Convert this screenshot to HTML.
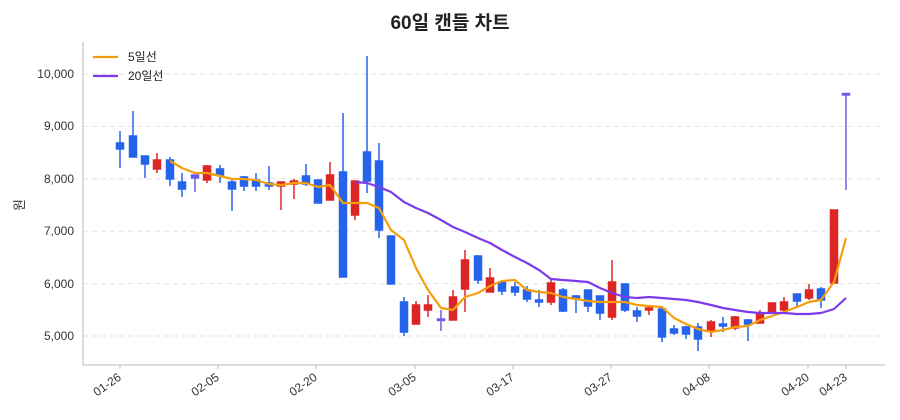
<!DOCTYPE html>
<html><head><meta charset="utf-8"><style>
html,body{margin:0;padding:0;background:#fff;}
svg{display:block;font-family:"Liberation Sans","Noto Sans CJK KR",sans-serif;}
</style></head><body>
<svg width="900" height="420" viewBox="0 0 900 420" xmlns="http://www.w3.org/2000/svg">
<text x="450" y="29" text-anchor="middle" font-size="19" font-weight="bold" fill="#222" font-family="Liberation Sans, Noto Sans CJK KR, sans-serif">60일 캔들 차트</text>
<g stroke="#e3e3e3" stroke-dasharray="5,4" stroke-width="1">
<line x1="83" x2="885" y1="336" y2="336"/><line x1="83" x2="885" y1="283.6" y2="283.6"/><line x1="83" x2="885" y1="231.2" y2="231.2"/><line x1="83" x2="885" y1="178.8" y2="178.8"/><line x1="83" x2="885" y1="126.4" y2="126.4"/><line x1="83" x2="885" y1="74" y2="74"/>
</g>
<g stroke="#bbb" stroke-width="1"><line x1="83" y1="42" x2="83" y2="365"/><line x1="83" y1="365" x2="885" y2="365"/></g>
<g font-size="12" fill="#333" text-anchor="end">
<text x="74" y="340">5,000</text><text x="74" y="288">6,000</text><text x="74" y="235">7,000</text><text x="74" y="183">8,000</text><text x="74" y="130">9,000</text><text x="74" y="78">10,000</text>
</g>
<text transform="translate(24,205) rotate(-90)" font-size="13" fill="#333" text-anchor="middle">원</text>
<g stroke="#bbb"><line x1="120" x2="120" y1="365" y2="369"/><line x1="218" x2="218" y1="365" y2="369"/><line x1="316" x2="316" y1="365" y2="369"/><line x1="415" x2="415" y1="365" y2="369"/><line x1="513" x2="513" y1="365" y2="369"/><line x1="611" x2="611" y1="365" y2="369"/><line x1="709" x2="709" y1="365" y2="369"/><line x1="808" x2="808" y1="365" y2="369"/><line x1="846" x2="846" y1="365" y2="369"/></g>
<g font-size="12" fill="#333" text-anchor="end">
<text transform="translate(122,379) rotate(-35)">01-26</text>
<text transform="translate(220,379) rotate(-35)">02-05</text>
<text transform="translate(318,379) rotate(-35)">02-20</text>
<text transform="translate(417,379) rotate(-35)">03-05</text>
<text transform="translate(515,379) rotate(-35)">03-17</text>
<text transform="translate(613,379) rotate(-35)">03-27</text>
<text transform="translate(711,379) rotate(-35)">04-08</text>
<text transform="translate(810,379) rotate(-35)">04-20</text>
<text transform="translate(848,379) rotate(-35)">04-23</text>
</g>
<g stroke-width="1.5">
<g stroke="#2563eb" fill="#2563eb">
<line x1="120" x2="120" y1="131" y2="168"/><rect x="116.5" y="143" width="7" height="6"/>
<line x1="133" x2="133" y1="111" y2="157"/><rect x="129.5" y="136" width="7" height="21"/>
<line x1="145" x2="145" y1="156" y2="178"/><rect x="141.5" y="156" width="7" height="8"/>
<line x1="170" x2="170" y1="157" y2="186"/><rect x="166.5" y="160" width="7" height="19"/>
<line x1="182" x2="182" y1="173" y2="197"/><rect x="178.5" y="182" width="7" height="7"/>
<line x1="220" x2="220" y1="165" y2="183"/><rect x="216.5" y="169" width="7" height="6"/>
<line x1="232" x2="232" y1="178" y2="211"/><rect x="228.5" y="182" width="7" height="7"/>
<line x1="244" x2="244" y1="176" y2="191"/><rect x="240.5" y="177" width="7" height="9"/>
<line x1="256" x2="256" y1="173" y2="191"/><rect x="252.5" y="180" width="7" height="6"/>
<line x1="269" x2="269" y1="166" y2="190"/><rect x="265.5" y="183" width="7" height="3"/>
<line x1="306" x2="306" y1="164" y2="186"/><rect x="302.5" y="176" width="7" height="8"/>
<rect x="314.5" y="180" width="7" height="23"/>
<line x1="343" x2="343" y1="113" y2="277"/><rect x="339.5" y="172" width="7" height="105"/>
<line x1="367" x2="367" y1="56" y2="193"/><rect x="363.5" y="152" width="7" height="29"/>
<line x1="379" x2="379" y1="143" y2="238"/><rect x="375.5" y="161" width="7" height="69"/>
<rect x="387.5" y="236" width="7" height="48"/>
<line x1="404" x2="404" y1="297" y2="336"/><rect x="400.5" y="302" width="7" height="30"/>
<line x1="478" x2="478" y1="255" y2="284"/><rect x="474.5" y="256" width="7" height="24"/>
<line x1="502" x2="502" y1="280" y2="295"/><rect x="498.5" y="282" width="7" height="9"/>
<line x1="515" x2="515" y1="282" y2="296"/><rect x="511.5" y="287" width="7" height="5"/>
<line x1="527" x2="527" y1="286" y2="302"/><rect x="523.5" y="290" width="7" height="9"/>
<line x1="539" x2="539" y1="290" y2="307"/><rect x="535.5" y="300" width="7" height="2"/>
<line x1="563" x2="563" y1="288" y2="312"/><rect x="559.5" y="290" width="7" height="21"/>
<line x1="576" x2="576" y1="295" y2="313"/><rect x="572.5" y="296" width="7" height="2"/>
<line x1="588" x2="588" y1="290" y2="312"/><rect x="584.5" y="290" width="7" height="16"/>
<line x1="600" x2="600" y1="296" y2="320"/><rect x="596.5" y="296" width="7" height="17"/>
<line x1="625" x2="625" y1="284" y2="312"/><rect x="621.5" y="284" width="7" height="26"/>
<line x1="637" x2="637" y1="307" y2="322"/><rect x="633.5" y="311" width="7" height="5"/>
<line x1="662" x2="662" y1="308" y2="342"/><rect x="658.5" y="309" width="7" height="28"/>
<line x1="674" x2="674" y1="325" y2="335"/><rect x="670.5" y="329" width="7" height="4"/>
<line x1="686" x2="686" y1="326" y2="339"/><rect x="682.5" y="327" width="7" height="7"/>
<line x1="698" x2="698" y1="323" y2="351"/><rect x="694.5" y="327" width="7" height="12"/>
<line x1="723" x2="723" y1="317" y2="332"/><rect x="719.5" y="324" width="7" height="2"/>
<line x1="748" x2="748" y1="319" y2="341"/><rect x="744.5" y="320" width="7" height="4"/>
<line x1="797" x2="797" y1="294" y2="306"/><rect x="793.5" y="294" width="7" height="7"/>
<line x1="821" x2="821" y1="287" y2="308"/><rect x="817.5" y="289" width="7" height="11"/>
</g>
<g stroke="#6d5ce8" fill="#6d5ce8">
<line x1="195" x2="195" y1="175" y2="192"/><rect x="191.5" y="175" width="7" height="3"/>
<line x1="441" x2="441" y1="310" y2="331"/><rect x="437.5" y="319" width="7" height="1.5"/>
<line x1="846" x2="846" y1="94" y2="190"/><rect x="842.5" y="93.5" width="7" height="1.5"/>
</g>
<g stroke="#dc2626" fill="#dc2626">
<line x1="157" x2="157" y1="153" y2="173"/><rect x="153.5" y="160" width="7" height="9"/>
<line x1="207" x2="207" y1="165" y2="183"/><rect x="203.5" y="166" width="7" height="14"/>
<line x1="281" x2="281" y1="182" y2="210"/><rect x="277.5" y="182" width="7" height="4"/>
<line x1="294" x2="294" y1="179" y2="199"/><rect x="290.5" y="181" width="7" height="3"/>
<line x1="330" x2="330" y1="162" y2="200"/><rect x="326.5" y="175" width="7" height="25"/>
<line x1="355" x2="355" y1="181" y2="220"/><rect x="351.5" y="181" width="7" height="34"/>
<line x1="416" x2="416" y1="301" y2="324"/><rect x="412.5" y="305" width="7" height="19"/>
<line x1="428" x2="428" y1="295" y2="317"/><rect x="424.5" y="305" width="7" height="5"/>
<line x1="453" x2="453" y1="290" y2="320"/><rect x="449.5" y="297" width="7" height="23"/>
<line x1="465" x2="465" y1="250" y2="312"/><rect x="461.5" y="260" width="7" height="29"/>
<line x1="490" x2="490" y1="268" y2="292"/><rect x="486.5" y="278" width="7" height="14"/>
<line x1="551" x2="551" y1="279" y2="305"/><rect x="547.5" y="283" width="7" height="19"/>
<line x1="612" x2="612" y1="260" y2="320"/><rect x="608.5" y="282" width="7" height="35"/>
<line x1="649" x2="649" y1="307" y2="315"/><rect x="645.5" y="308" width="7" height="2"/>
<line x1="711" x2="711" y1="320" y2="337"/><rect x="707.5" y="322" width="7" height="9"/>
<line x1="735" x2="735" y1="316" y2="330"/><rect x="731.5" y="317" width="7" height="11"/>
<line x1="760" x2="760" y1="310" y2="323"/><rect x="756.5" y="313" width="7" height="10"/>
<rect x="768.5" y="303" width="7" height="10"/>
<line x1="784" x2="784" y1="297" y2="312"/><rect x="780.5" y="302" width="7" height="8"/>
<line x1="809" x2="809" y1="284" y2="300"/><rect x="805.5" y="290" width="7" height="8"/>
<rect x="830.5" y="210" width="7" height="73"/>
</g>
</g>
<polyline fill="none" stroke="#f59e0b" stroke-width="2.2" stroke-linejoin="round" points="170,161 182,168 195,173 207,173 220,176 232,179 244,179 256,180 269,184 281,185 294,183 306,183 318,187 330,185 343,203 355,203 367,203 379,208 391,230 404,240 416,268 428,290 441,308 453,310 465,297 478,293 490,286 502,281 515,280 527,290 539,292 551,293 563,297 576,299 588,301 600,302 612,302 625,302 637,305 649,306 662,307 674,318 686,324 698,329 711,332 723,330 735,327 748,326 760,320 772,316 784,312 797,307 809,302 821,300 834,282 846,238"/>
<polyline fill="none" stroke="#7c3aed" stroke-width="2.2" stroke-linejoin="round" points="355,182 367,183 379,187 391,192 404,202 416,208 428,213 441,220 453,227 465,232 478,238 490,243 502,250 515,257 527,263 539,270 551,279 563,280 576,281 588,282 600,288 612,293 625,297 637,298 649,297 662,298 674,299 686,300 698,302 711,305 723,308 735,310 748,312 760,313 772,313 784,313 797,314 809,314 821,313 834,309 846,298"/>
<line x1="93" y1="57" x2="118" y2="57" stroke="#f59e0b" stroke-width="2.2"/>
<text x="128" y="61" font-size="12" fill="#222">5일선</text>
<line x1="93" y1="76" x2="118" y2="76" stroke="#7c3aed" stroke-width="2.2"/>
<text x="128" y="80" font-size="12" fill="#222">20일선</text>
</svg>
</body></html>
